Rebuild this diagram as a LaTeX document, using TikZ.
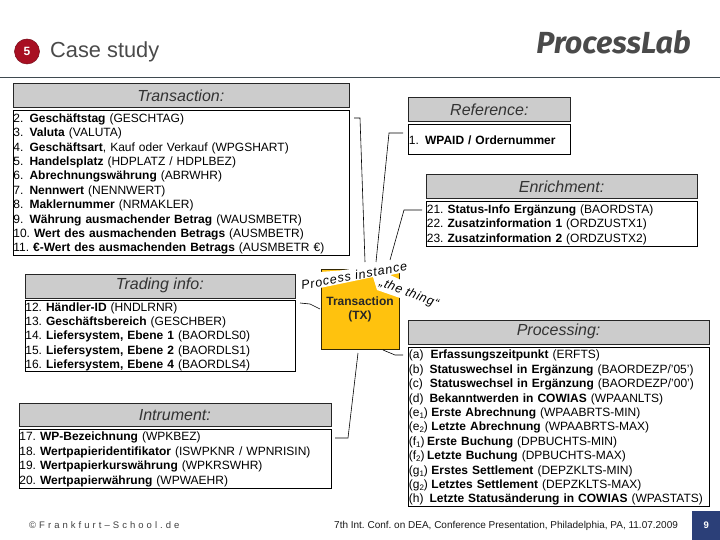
\documentclass[tikz,border=0pt]{standalone}
\usepackage{fontspec}
\setmainfont{Liberation Sans}
\newfontfamily\logofont{Fira Sans}
\definecolor{hdrgrey}{HTML}{CCCCCC}
\definecolor{tyellow}{HTML}{FFC20E}
\definecolor{dkred}{HTML}{A80F22}
\definecolor{navy}{HTML}{2B3F78}
\definecolor{txtgrey}{HTML}{4A4A4A}
\definecolor{rulegrey}{HTML}{3F4A50}
\newcommand{\bodyfont}{\fontsize{12}{14.4}\selectfont\frenchspacing}
\newcommand{\num}[1]{#1\hspace{6.2pt}}
\newcommand{\lsub}[1]{\raisebox{-2pt}{\fontsize{8}{8}\selectfont #1}}
\newcommand{\downby}[2]{\rule{0pt}{\dimexpr 9pt+#1\relax}#2\par\vspace*{-#1}}
\tikzset{
  x=1pt,y=-1pt,
  hdrbox/.style n args={2}{draw=black!85,line width=0.7pt,fill=hdrgrey,anchor=north west,inner sep=0pt,
    minimum width=#1,minimum height=#2,font=\fontsize{16}{18}\selectfont\itshape,text=black!80},
  listbox/.style={draw=black,line width=0.7pt,fill=white,anchor=north west,inner xsep=0.5pt,inner ysep=0pt,
    text width=#1,align=left,font=\bodyfont},
  conn/.style={draw=black,line width=0.6pt},
}
\begin{document}
\begin{tikzpicture}
\useasboundingbox[fill=white] (0,0) rectangle (720,540);
% top
\draw[rulegrey,line width=0.7pt] (0,77) -- (720,77);
\node[circle,fill=dkred,draw=dkred!70!black,line width=0.5pt,minimum size=25pt,inner sep=0pt,text=white,font=\fontsize{12}{13}\selectfont\bfseries] (badge) at (27,51.5) {5};
\node[anchor=west,inner sep=0pt,text=txtgrey,font=\fontsize{21.8}{24}\selectfont] (title) at (50,51.5) {Case study};
\node[anchor=east,inner sep=0pt,text=txtgrey,font=\logofont\fontsize{30.5}{34}\selectfont\bfseries\itshape] (logo) at (691,42) {ProcessLab};
% transaction hub
\node[draw=black!80!tyellow,line width=0.6pt,fill=tyellow,minimum width=77.5pt,minimum height=80pt,inner sep=0pt,align=center,anchor=north west,font=\bodyfont\bfseries,text=black!85] (hub) at (321,269) {Transaction\\(TX)};
\fill[white] (320,272) -- (340,270.5) -- (400,262) -- (400,273) -- (390,275) -- (400,279.5) -- (400,298) -- (377,290) -- (373,277) -- (320,288) -- cycle;
\node[inner sep=0pt,rotate=10.5,font=\fontsize{12.5}{14}\selectfont\itshape\addfontfeature{LetterSpace=7}] (inst) at (354,275.5) {Process instance};
\node[inner sep=0pt,rotate=-21,font=\fontsize{12.5}{14}\selectfont\itshape\addfontfeature{LetterSpace=5}] (thing) at (409,293.5) {„the thing“};
% boxes
\node[hdrbox={336pt}{23.5pt}] (transH) at (12.5,83.5) {Transaction:};
\node[listbox=335pt,minimum height=144.5pt] (transL) at (12.5,110.5) {\downby{1.5pt}{%
\num{2.}\textbf{Geschäftstag} (GESCHTAG)\\
\num{3.}\textbf{Valuta} (VALUTA)\\
\num{4.}\textbf{Geschäftsart}, Kauf oder Verkauf (WPGSHART)\\
\num{5.}\textbf{Handelsplatz} (HDPLATZ / HDPLBEZ)\\
\num{6.}\textbf{Abrechnungswährung} (ABRWHR)\\
\num{7.}\textbf{Nennwert} (NENNWERT)\\
\num{8.}\textbf{Maklernummer} (NRMAKLER)\\
\num{9.}\textbf{Währung ausmachender Betrag} (WAUSMBETR)\\
10. \textbf{Wert des ausmachenden Betrags} (AUSMBETR)\\
11. \textbf{€-Wert des ausmachenden Betrags} (AUSMBETR €)}};
\node[hdrbox={162pt}{24pt}] (refH) at (408,97.5) {Reference:};
\node[listbox=161pt,minimum height=29.5pt] (refL) at (408,124.5) {\downby{1pt}{\num{1.}\textbf{WPAID / Ordernummer}}};
\node[hdrbox={270.5pt}{24pt}] (enrH) at (426,174.5) {Enrichment:};
\node[listbox=269.5pt,minimum height=44pt] (enrL) at (426,201.5) {\downby{1pt}{%
21. \textbf{Status-Info Ergänzung} (BAORDSTA)\\
22. \textbf{Zusatzinformation 1} (ORDZUSTX1)\\
23. \textbf{Zusatzinformation 2} (ORDZUSTX2)}};
\node[hdrbox={270pt}{24pt}] (tradH) at (24.5,273.5) {Trading info:};
\node[listbox=269pt,minimum height=71.5pt] (tradL) at (24.5,299.5) {\downby{2pt}{%
12. \textbf{Händler-ID} (HNDLRNR)\\
13. \textbf{Geschäftsbereich} (GESCHBER)\\
14. \textbf{Liefersystem, Ebene 1} (BAORDLS0)\\
15. \textbf{Liefersystem, Ebene 2} (BAORDLS1)\\
16. \textbf{Liefersystem, Ebene 4} (BAORDLS4)}};
\node[hdrbox={312pt}{23.5pt}] (instH) at (18.5,402.5) {Intrument:};
\node[listbox=311pt,minimum height=58.5pt] (instL) at (18.5,429) {\downby{1.5pt}{%
17. \textbf{WP-Bezeichnung} (WPKBEZ)\\
18. \textbf{Wertpapieridentifikator} (ISWPKNR / WPNRISIN)\\
19. \textbf{Wertpapierkurswährung} (WPKRSWHR)\\
20. \textbf{Wertpapierwährung} (WPWAEHR)}};
\node[hdrbox={300.5pt}{24pt}] (procH) at (408,319.5) {Processing:};
\node[listbox=299.5pt,minimum height=159pt] (procL) at (408,346.5) {\downby{2.5pt}{%
(a)\hspace{7pt}\textbf{Erfassungszeitpunkt} (ERFTS)\\
(b)\hspace{6pt}\textbf{Statuswechsel in Ergänzung} (BAORDEZP/’05’)\\
(c)\hspace{7pt}\textbf{Statuswechsel in Ergänzung} (BAORDEZP/’00’)\\
(d)\hspace{6pt}\textbf{Bekanntwerden in COWIAS} (WPAANLTS)\\
(e\lsub{1})\hspace{3.5pt}\textbf{Erste Abrechnung} (WPAABRTS-MIN)\\
(e\lsub{2})\hspace{3.5pt}\textbf{Letzte Abrechnung} (WPAABRTS-MAX)\\
(f\lsub{1})\hspace{2.5pt}\textbf{Erste Buchung} (DPBUCHTS-MIN)\\
(f\lsub{2})\hspace{2.5pt}\textbf{Letzte Buchung} (DPBUCHTS-MAX)\\
(g\lsub{1})\hspace{3.5pt}\textbf{Erstes Settlement} (DEPZKLTS-MIN)\\
(g\lsub{2})\hspace{3.5pt}\textbf{Letztes Settlement} (DEPZKLTS-MAX)\\
(h)\hspace{6pt}\textbf{Letzte Statusänderung in COWIAS} (WPASTATS)}};
% connector ends
\coordinate (a1) at (354,118); \coordinate (a2) at (360,118); \coordinate (a3) at (365,262);
\coordinate (b1) at (403,133); \coordinate (b2) at (389,133); \coordinate (b3) at (376,262);
\coordinate (c1) at (422,210); \coordinate (c2) at (404,210); \coordinate (c3) at (390,260);
\coordinate (d1) at (300,303); \coordinate (d2) at (310,304); \coordinate (d3) at (320,309);
\coordinate (e1) at (335,438); \coordinate (e2) at (348,438); \coordinate (e3) at (358,353);
\coordinate (f1) at (403,355); \coordinate (f2) at (395,355); \coordinate (f3) at (383,350);
\draw[conn] (a1) -- (a2) -- (a3);
\draw[conn] (b1) -- (b2) -- (b3);
\draw[conn] (c1) -- (c2) -- (c3);
\draw[conn] (d1) -- (d2) -- (d3);
\draw[conn] (e1) -- (e2) -- (e3);
\draw[conn] (f1) -- (f2) -- (f3);
% footer
\node[anchor=west,inner sep=0pt,text=black!75,font=\fontsize{9.5}{11}\selectfont\addfontfeature{LetterSpace=32}] (copy) at (29,525.5) {©Frankfurt–School.de};
\node[anchor=west,inner sep=0pt,text=black!90,font=\fontsize{10}{11}\selectfont\frenchspacing] (conf) at (334,525.5) {7th Int. Conf. on DEA, Conference Presentation, Philadelphia, PA, 11.07.2009};
\node[fill=navy,text=white,anchor=north west,minimum width=28pt,minimum height=29pt,inner sep=0pt,font=\fontsize{9.5}{11}\selectfont\bfseries] (page) at (692,511) {9};
\end{tikzpicture}
\end{document}
